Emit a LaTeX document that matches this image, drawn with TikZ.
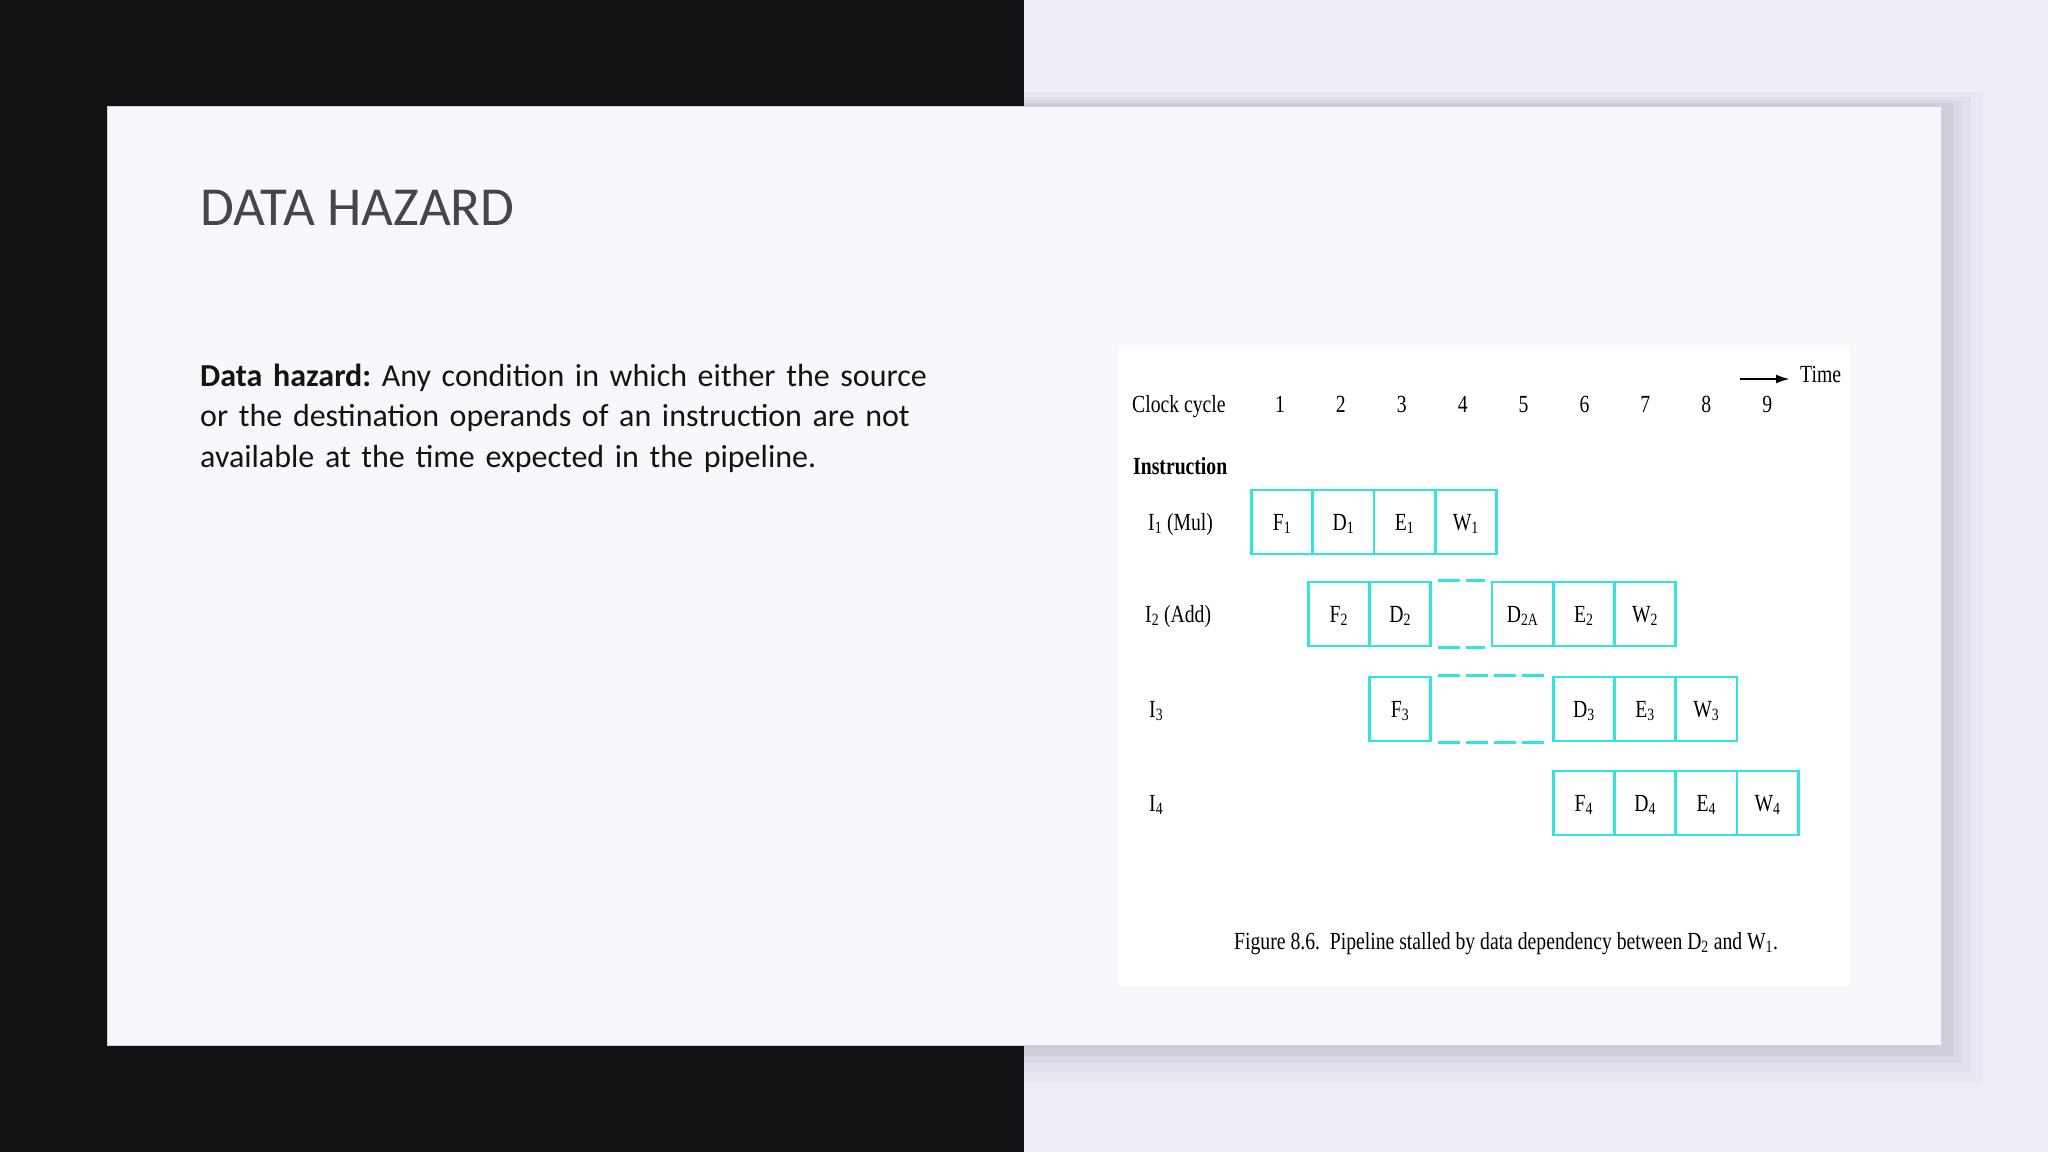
\documentclass[tikz,border=0pt]{standalone}
\usepackage{fontspec}
\setmainfont{Carlito}
\newfontfamily\figfont[FakeStretch=0.80]{Liberation Serif}
\usetikzlibrary{positioning,arrows.meta}
\tikzset{>=stealth}
\frenchspacing
\definecolor{darkSide}{HTML}{121215}
\definecolor{lightSide}{HTML}{EDEEF7}
\definecolor{cardColor}{HTML}{F7F8FC}
\definecolor{shadowColor}{HTML}{B9BAC8}
\definecolor{titleColor}{HTML}{45454B}
\definecolor{stageColor}{RGB}{52,226,226}
\tikzset{
  figtext/.style={inner sep=0pt, font=\figfont\fontsize{24.6}{28}\selectfont},
  stagebox/.style={figtext, draw=stageColor, line width=2.6pt,
    minimum width=61.25pt, minimum height=64pt, text height=16pt, text depth=0pt},
  stall/.style={draw=stageColor, line width=2.6pt, dash pattern=on 22pt off 6pt,
    shorten <=6pt, shorten >=6pt}
}
\def\cw{61.25}
\def\xa{1251.5}
\def\xb{1247}

\begin{document}
\begin{tikzpicture}[x=1pt,y=-1pt]
\useasboundingbox (0,0) rectangle (2048,1152);
% slide background
\fill[lightSide] (0,0) rectangle (2048,1152);
\fill[darkSide] (0,0) rectangle (1024,1152);
\foreach \s/\op in {42/0.10,30/0.14,20/0.2,12/0.35}
  \fill[shadowColor, opacity=\op] (1024,{107-\s*0.35}) rectangle ({1941+\s},{1045+\s*0.9});
\draw[fill=cardColor, draw=shadowColor!70, line width=1pt] (107,106) rectangle (1941,1045);

% text side
\node[anchor=base west, inner sep=0pt, text=titleColor, font=\fontsize{55}{64}\selectfont]
  (title) at (200,225) {DATA HAZARD};
\node[anchor=base west, inner sep=0pt, text width=900pt, align=left, text=black!92,
  font=\fontsize{32}{40.5}\selectfont] (body) at (200,386)
  {\textbf{Data hazard:} Any condition in which either the source\\
   or the destination operands of an instruction are not\\
   available at the time expected in the pipeline.};

% figure
\fill[white] (1119,345) rectangle (1849,986);
\node[figtext, anchor=base west] (clock) at (1132,412) {Clock cycle};
\foreach \k in {1,...,9}
  \node[figtext, anchor=base] (n\k) at ({1280+(\k-1)*60.9},412) {\k};
\coordinate (tstart) at (1740,379);
\node[figtext, anchor=base west] (time) at (1800,382) {Time};
\draw[-{Latex[length=14pt,width=9pt]}, line width=2.4pt] (tstart) -- ([xshift=-10pt]time.west |- tstart);
\node[figtext, anchor=base west, font=\figfont\bfseries\fontsize{24.6}{28}\selectfont]
  (instr) at (1133,474) {Instruction};

% instruction rows
\node[figtext, anchor=base west] (i1) at (1148,530) {I\textsubscript{1} (Mul)};
\node[figtext, anchor=base west] (i2) at (1145,622) {I\textsubscript{2} (Add)};
\node[figtext, anchor=base west] (i3) at (1149,717) {I\textsubscript{3}};
\node[figtext, anchor=base west] (i4) at (1149,811) {I\textsubscript{4}};

\foreach \txt/\col/\nm in {F/1/f1,D/2/d1,E/3/e1,W/4/w1}
  \node[stagebox] (\nm) at ({\xa+(\col-0.5)*\cw},522) {\txt\textsubscript{1}};
\foreach \txt/\col/\nm in {F\textsubscript{2}/2/f2,D\textsubscript{2}/3/d2,D\textsubscript{2A}/5/d2a,E\textsubscript{2}/6/e2,W\textsubscript{2}/7/w2}
  \node[stagebox] (\nm) at ({\xb+(\col-0.5)*\cw},614) {\txt};
\foreach \txt/\col/\nm in {F/3/f3,D/6/d3,E/7/e3,W/8/w3}
  \node[stagebox] (\nm) at ({\xb+(\col-0.5)*\cw},709) {\txt\textsubscript{3}};
\foreach \txt/\col/\nm in {F/6/f4,D/7/d4,E/8/e4,W/9/w4}
  \node[stagebox] (\nm) at ({\xb+(\col-0.5)*\cw},803) {\txt\textsubscript{4}};

% stalls
\draw[stall] (d2.north east) -- (d2a.north west);
\draw[stall] (d2.south east) -- (d2a.south west);
\draw[stall] (f3.north east) -- (d3.north west);
\draw[stall] (f3.south east) -- (d3.south west);

\node[figtext, anchor=base west] (caption) at (1234,949)
  {Figure 8.6.\ \ Pipeline stalled by data dependency between D\textsubscript{2} and W\textsubscript{1}.};
\end{tikzpicture}
\end{document}
